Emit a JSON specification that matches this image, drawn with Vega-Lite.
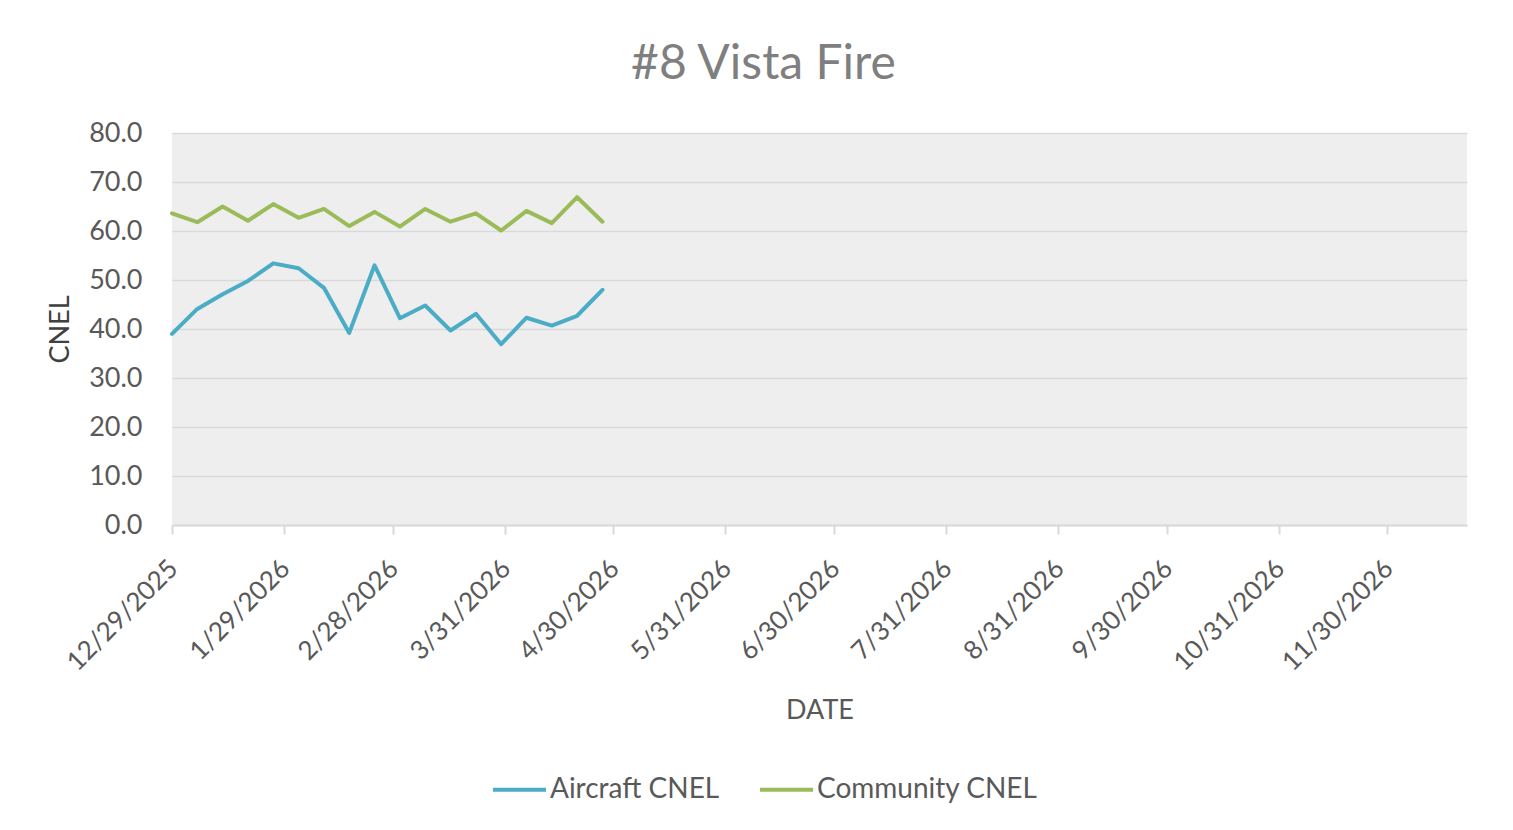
{
  "$schema": "https://vega.github.io/schema/vega-lite/v6.json",
  "autosize": {"type": "none"},
  "width": 1295,
  "height": 392,
  "padding": {"left": 172, "top": 133, "right": 46, "bottom": 305},
  "background": "white",
  "title": {
    "text": "#8 Vista Fire",
    "fontSize": 48,
    "font": "Lato",
    "fontWeight": "normal",
    "color": "#7f7f7f",
    "anchor": "middle",
    "dx": -56,
    "dy": 62,
    "baseline": "alphabetic",
    "offset": 54
  },
  "config": {
    "view": {"fill": "#eeeeee", "stroke": null},
    "font": "Lato"
  },
  "data": {
    "values": [
      {"date": "2025/12/29", "series": "Aircraft CNEL", "cnel": 39.0},
      {"date": "2026/01/05", "series": "Aircraft CNEL", "cnel": 44.1},
      {"date": "2026/01/12", "series": "Aircraft CNEL", "cnel": 47.1},
      {"date": "2026/01/19", "series": "Aircraft CNEL", "cnel": 49.8},
      {"date": "2026/01/26", "series": "Aircraft CNEL", "cnel": 53.4},
      {"date": "2026/02/02", "series": "Aircraft CNEL", "cnel": 52.4},
      {"date": "2026/02/09", "series": "Aircraft CNEL", "cnel": 48.4},
      {"date": "2026/02/16", "series": "Aircraft CNEL", "cnel": 39.2},
      {"date": "2026/02/23", "series": "Aircraft CNEL", "cnel": 53.0},
      {"date": "2026/03/02", "series": "Aircraft CNEL", "cnel": 42.2},
      {"date": "2026/03/09", "series": "Aircraft CNEL", "cnel": 44.8},
      {"date": "2026/03/16", "series": "Aircraft CNEL", "cnel": 39.7},
      {"date": "2026/03/23", "series": "Aircraft CNEL", "cnel": 43.1},
      {"date": "2026/03/30", "series": "Aircraft CNEL", "cnel": 36.9},
      {"date": "2026/04/06", "series": "Aircraft CNEL", "cnel": 42.3},
      {"date": "2026/04/13", "series": "Aircraft CNEL", "cnel": 40.7},
      {"date": "2026/04/20", "series": "Aircraft CNEL", "cnel": 42.7},
      {"date": "2026/04/27", "series": "Aircraft CNEL", "cnel": 48.0},
      {"date": "2025/12/29", "series": "Community CNEL", "cnel": 63.6},
      {"date": "2026/01/05", "series": "Community CNEL", "cnel": 61.8},
      {"date": "2026/01/12", "series": "Community CNEL", "cnel": 65.0},
      {"date": "2026/01/19", "series": "Community CNEL", "cnel": 62.1},
      {"date": "2026/01/26", "series": "Community CNEL", "cnel": 65.5},
      {"date": "2026/02/02", "series": "Community CNEL", "cnel": 62.7},
      {"date": "2026/02/09", "series": "Community CNEL", "cnel": 64.5},
      {"date": "2026/02/16", "series": "Community CNEL", "cnel": 61.0},
      {"date": "2026/02/23", "series": "Community CNEL", "cnel": 63.9},
      {"date": "2026/03/02", "series": "Community CNEL", "cnel": 60.9},
      {"date": "2026/03/09", "series": "Community CNEL", "cnel": 64.5},
      {"date": "2026/03/16", "series": "Community CNEL", "cnel": 61.9},
      {"date": "2026/03/23", "series": "Community CNEL", "cnel": 63.6},
      {"date": "2026/03/30", "series": "Community CNEL", "cnel": 60.1},
      {"date": "2026/04/06", "series": "Community CNEL", "cnel": 64.1},
      {"date": "2026/04/13", "series": "Community CNEL", "cnel": 61.6},
      {"date": "2026/04/20", "series": "Community CNEL", "cnel": 66.9},
      {"date": "2026/04/27", "series": "Community CNEL", "cnel": 61.9}
    ]
  },
  "mark": {"type": "line", "strokeWidth": 4, "strokeJoin": "round", "strokeCap": "round"},
  "encoding": {
    "x": {
      "field": "date",
      "type": "temporal",
      "scale": {"domain": [{"year": 2025, "month": 12, "date": 29}, {"year": 2026, "month": 12, "date": 22}], "nice": false},
      "axis": {
        "title": "DATE",
        "titleFont": "Lato",
        "titleFontSize": 27,
        "titleFontWeight": "normal",
        "titleColor": "#595959",
        "titlePadding": 22,
        "format": "%-m/%-d/%Y",
        "labelAngle": -45,
        "labelFontSize": 26,
        "labelColor": "#595959",
        "labelPadding": 21,
        "labelOffset": -8,
        "labelOverlap": false,
        "labelFlush": false,
        "grid": false,
        "domainColor": "#d9d9d9",
        "domainWidth": 2,
        "tickColor": "#d9d9d9",
        "tickWidth": 2,
        "tickSize": 9,
        "values": [
          {"year": 2025, "month": 12, "date": 29},
          {"year": 2026, "month": 1, "date": 29},
          {"year": 2026, "month": 2, "date": 28},
          {"year": 2026, "month": 3, "date": 31},
          {"year": 2026, "month": 4, "date": 30},
          {"year": 2026, "month": 5, "date": 31},
          {"year": 2026, "month": 6, "date": 30},
          {"year": 2026, "month": 7, "date": 31},
          {"year": 2026, "month": 8, "date": 31},
          {"year": 2026, "month": 9, "date": 30},
          {"year": 2026, "month": 10, "date": 31},
          {"year": 2026, "month": 11, "date": 30}
        ]
      }
    },
    "y": {
      "field": "cnel",
      "type": "quantitative",
      "scale": {"domain": [0, 80], "nice": false},
      "axis": {
        "title": "CNEL",
        "titleFont": "Lato",
        "titleFontSize": 27,
        "titleFontWeight": "normal",
        "titleColor": "#404040",
        "titlePadding": 14,
        "format": ".1f",
        "values": [0, 10, 20, 30, 40, 50, 60, 70, 80],
        "labelFontSize": 27,
        "labelColor": "#595959",
        "labelPadding": 30,
        "domain": false,
        "ticks": false,
        "grid": true,
        "gridColor": "#d9d9d9",
        "gridWidth": 1.5
      }
    },
    "color": {
      "field": "series",
      "type": "nominal",
      "scale": {"domain": ["Aircraft CNEL", "Community CNEL"], "range": ["#4bacc6", "#9bbb59"]},
      "legend": {
        "title": null,
        "orient": "none",
        "direction": "horizontal",
        "legendX": 319,
        "legendY": 628,
        "symbolType": "stroke",
        "symbolStrokeWidth": 4,
        "symbolSize": 2809,
        "labelFontSize": 28,
        "labelColor": "#595959",
        "labelOffset": 2,
        "columnPadding": 32,
        "labelLimit": 400
      }
    }
  }
}
